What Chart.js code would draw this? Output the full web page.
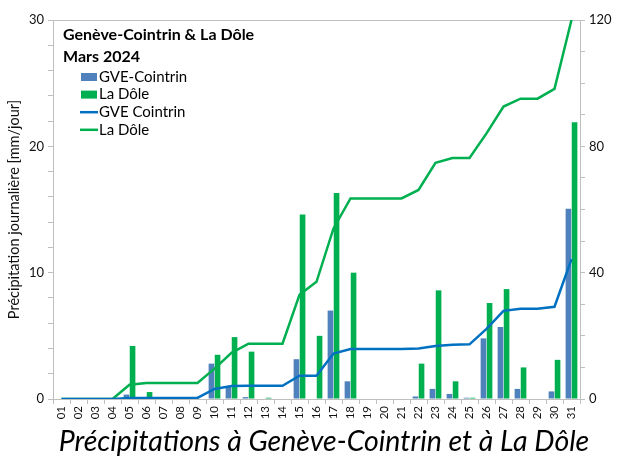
<!DOCTYPE html>
<html>
<head>
<meta charset="utf-8">
<script src="https://cdn.jsdelivr.net/npm/chart.js@4"></script>
<style>
  html, body { margin: 0; padding: 0; background: #fff; }
  #wrap { width: 617px; height: 456px; }
</style>
</head>
<body>
<div id="wrap"><canvas id="rainChart"></canvas></div>
<script>
const days = ['01','02','03','04','05','06','07','08','09','10','11','12','13','14','15','16',
  '17','18','19','20','21','22','23','24','25','26','27','28','29','30','31'];

// daily precipitation [mm/jour]
const gveDaily = [0, 0, 0, 0, 0.35, 0, 0, 0, 0, 2.8, 1.0, 0.15, 0, 0, 3.15, 0,
  7.0, 1.4, 0, 0, 0, 0.2, 0.8, 0.4, 0.1, 4.8, 5.7, 0.8, 0, 0.6, 15.05];
const doleDaily = [0, 0, 0, 0, 4.2, 0.55, 0, 0, 0, 3.5, 4.9, 3.75, 0.1, 0, 14.6, 5.0,
  16.3, 10.0, 0, 0, 0, 2.8, 8.6, 1.4, 0.1, 7.6, 8.7, 2.5, 0, 3.1, 21.9];

// cumulated precipitation [mm], right axis
const gveCumul = [0, 0, 0, 0, 0.35, 0.35, 0.35, 0.35, 0.35, 3.2, 4.1, 4.2, 4.2, 4.2, 7.35, 7.35,
  14.4, 15.8, 15.8, 15.8, 15.8, 16.0, 16.8, 17.2, 17.3, 22.2, 27.9, 28.6, 28.6, 29.2, 44.3];
const doleCumul = [0, 0, 0, 0, 4.5, 5.1, 5.1, 5.1, 5.1, 9.6, 14.6, 17.5, 17.5, 17.5, 33.0, 37.1,
  54.0, 63.5, 63.5, 63.5, 63.5, 66.2, 74.8, 76.3, 76.3, 84.1, 92.6, 95.1, 95.1, 98.2, 120];

const gridGrey = '#bfbfbf';
const fontName = 'Lato, "Open Sans", sans-serif';

// header, legend and bottom caption, placed like the Excel original
const legendBox = {
  id: 'legendBox',
  afterDraw(chart) {
    const { ctx, chartArea } = chart;
    const x0 = chartArea.left + 10;
    ctx.save();
    ctx.fillStyle = '#000';
    ctx.textBaseline = 'middle';
    ctx.font = 'bold 16px ' + fontName;
    ctx.fillText('Genève-Cointrin & La Dôle', x0, 35);
    ctx.fillText('Mars 2024', x0, 57);
    const items = [
      { text: 'GVE-Cointrin', color: '#4f81bd', bar: true },
      { text: 'La Dôle', color: '#00b050', bar: true },
      { text: 'GVE Cointrin', color: '#0070c0', bar: false },
      { text: 'La Dôle', color: '#00b050', bar: false }
    ];
    ctx.font = '15px ' + fontName;
    items.forEach((it, i) => {
      const y = 77 + i * 17.6;
      if (it.bar) {
        ctx.fillStyle = it.color;
        ctx.fillRect(x0 + 18, y - 4, 16, 8);
      } else {
        ctx.strokeStyle = it.color;
        ctx.lineWidth = 2.5;
        ctx.beginPath();
        ctx.moveTo(x0 + 17, y);
        ctx.lineTo(x0 + 35, y);
        ctx.stroke();
      }
      ctx.fillStyle = '#000';
      ctx.fillText(it.text, x0 + 36, y);
    });

    ctx.fillStyle = '#000';
    ctx.textAlign = 'center';
    ctx.font = 'italic 28.5px ' + fontName;
    ctx.fillText('Précipitations à Genève-Cointrin et à La Dôle', 324, 442);
    ctx.restore();
  }
};

new Chart(document.getElementById('rainChart'), {
  data: {
    labels: days,
    datasets: [
      {
        type: 'line', label: 'GVE Cointrin', data: gveCumul, yAxisID: 'y2',
        borderColor: '#0070c0', borderWidth: 2.5, pointRadius: 0, tension: 0, order: 0
      },
      {
        type: 'line', label: 'La Dôle', data: doleCumul, yAxisID: 'y2',
        borderColor: '#00b050', borderWidth: 2.5, pointRadius: 0, tension: 0, order: 0
      },
      {
        type: 'bar', label: 'GVE-Cointrin', data: gveDaily, yAxisID: 'y',
        backgroundColor: '#4f81bd', categoryPercentage: 0.72, barPercentage: 0.92, order: 1
      },
      {
        type: 'bar', label: 'La Dôle', data: doleDaily, yAxisID: 'y',
        backgroundColor: '#00b050', categoryPercentage: 0.72, barPercentage: 0.92, order: 1
      }
    ]
  },
  options: {
    responsive: true,
    maintainAspectRatio: false,
    animation: false,
    layout: { padding: { top: 20, left: 0, right: 0, bottom: 30 } },
    plugins: {
      legend: { display: false },
      tooltip: { enabled: false }
    },
    scales: {
      x: {
        offset: true,
        grid: { offset: true, drawOnChartArea: false, tickLength: 5, color: gridGrey },
        border: { color: gridGrey },
        ticks: { color: '#111', maxRotation: 90, minRotation: 90, padding: 2,
          font: { family: fontName, size: 11.5 } },
        afterFit: (s) => { s.height = 27; }
      },
      y: {
        position: 'left',
        min: 0, max: 30,
        grid: {
          color: (c) => (c.tick && c.tick.value === 30 ? gridGrey : 'transparent'),
          tickColor: gridGrey, tickLength: 5
        },
        border: { color: gridGrey },
        ticks: {
          stepSize: 2, color: '#111', padding: 4,
          font: { family: fontName, size: 13 },
          callback: (v) => (v % 10 === 0 ? v : '')
        },
        title: {
          display: true, text: 'Précipitation journalière [mm/jour]', color: '#111',
          font: { family: fontName, size: 14.5 }, padding: { top: 6, bottom: 0 }
        },
        afterFit: (s) => { s.width = 53; }
      },
      y2: {
        position: 'right',
        min: 0, max: 120,
        grid: { drawOnChartArea: false, tickColor: gridGrey, tickLength: 5 },
        border: { color: gridGrey },
        ticks: {
          stepSize: 10, color: '#111', padding: 4,
          font: { family: fontName, size: 13 },
          callback: (v) => (v % 40 === 0 ? v : '')
        },
        afterFit: (s) => { s.width = 37; }
      }
    }
  },
  plugins: [legendBox]
});
</script>
</body>
</html>
